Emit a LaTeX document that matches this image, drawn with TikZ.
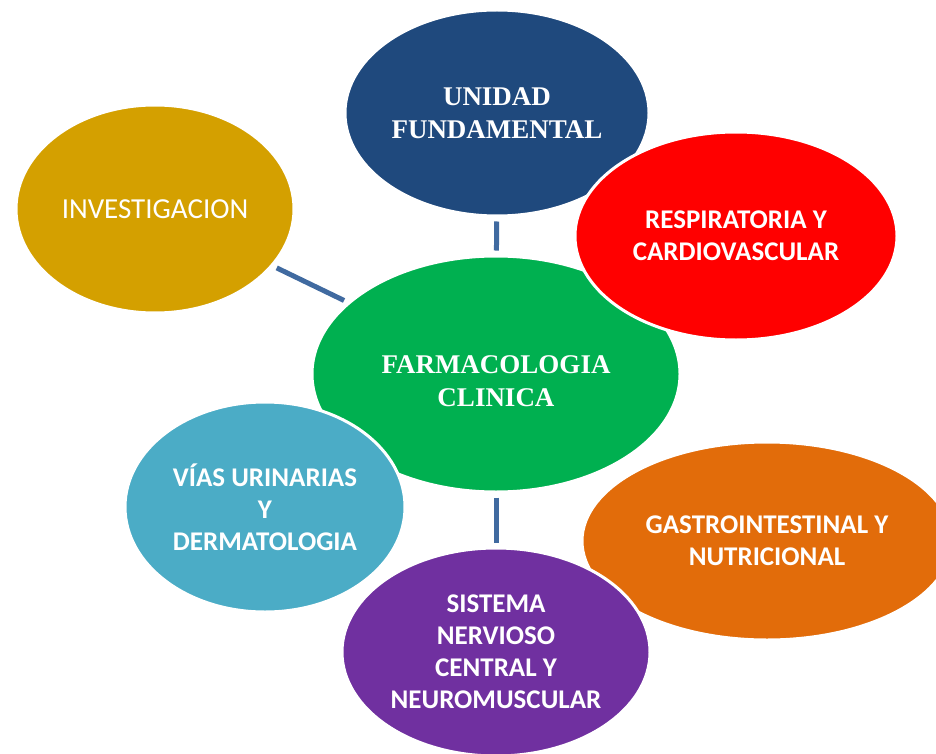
\documentclass[tikz,border=0pt]{standalone}
\usepackage{fontspec}
\setmainfont{Liberation Serif}
\newfontfamily\calibri{Carlito}
\usetikzlibrary{shapes.geometric}

\definecolor{azulosc}{RGB}{31,73,125}
\definecolor{dorado}{RGB}{212,160,0}
\definecolor{rojo}{RGB}{255,0,0}
\definecolor{verde}{RGB}{0,176,80}
\definecolor{celeste}{RGB}{75,172,198}
\definecolor{naranja}{RGB}{226,108,10}
\definecolor{morado}{RGB}{112,48,160}
\definecolor{azulcon}{RGB}{64,106,160}

\begin{document}
\begin{tikzpicture}[
            x=1pt, y=-1pt,
            burbuja/.style={ellipse, draw=white, line width=3pt, inner sep=0pt, text=white, align=center},
            titulo/.style={font=\bfseries\fontsize{27}{33}\selectfont},
            tema/.style={font=\calibri\bfseries\fontsize{27}{32}\selectfont},
            conector/.style={draw=azulcon, line width=5pt, shorten <=4pt, shorten >=4pt}
            ]
            \useasboundingbox (0,0) rectangle (936,754);
            \clip (0,0) rectangle (936,754);
            % burbujas, de atras hacia adelante
            \node[burbuja, fill=dorado, minimum width=278pt, minimum height=208pt,
                  font=\calibri\fontsize{29}{32}\selectfont] (inv) at (155,209) {INVESTIGACION};
            \node[burbuja, titulo, fill=azulosc, minimum width=304pt, minimum height=206pt] (unidad) at (497,113) {UNIDAD\\FUNDAMENTAL};
            \node[burbuja, titulo, fill=verde, minimum width=368pt, minimum height=236pt] (farm) at (496,374) {};
            \node[titulo, text=white, align=center] (farmtxt) at (496,381) {FARMACOLOGIA\\CLINICA};
            \node[burbuja, tema, fill=celeste, minimum width=280pt, minimum height=210pt] (urin) at (265,507) {VÍAS URINARIAS\\Y\\DERMATOLOGIA};
            \node[burbuja, tema, fill=rojo, minimum width=322pt, minimum height=208pt] (resp) at (736,236) {RESPIRATORIA Y\\CARDIOVASCULAR};
            \node[burbuja, tema, fill=naranja, minimum width=370pt, minimum height=198pt] (gastro) at (767,541) {GASTROINTESTINAL Y\\NUTRICIONAL};
            \node[burbuja, tema, fill=morado, minimum width=308pt, minimum height=208pt] (snc) at (496,652) {SISTEMA\\NERVIOSO\\CENTRAL Y\\NEUROMUSCULAR};
            % conectores
            \draw[conector] (unidad) -- (farm);
            \draw[conector] (inv) -- (farm);
            \draw[conector] (farm) -- (snc);
\end{tikzpicture}
\end{document}
